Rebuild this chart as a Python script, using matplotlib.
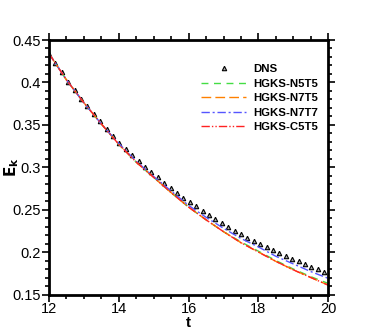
import matplotlib
matplotlib.use("Agg")
import matplotlib.pyplot as plt
from matplotlib.ticker import MultipleLocator

plt.rcParams['font.family'] = ['Liberation Sans', 'DejaVu Sans']

# HGKS curves (time grid)
t_line = [12.0, 12.5, 13.0, 13.5, 14.0, 14.5, 15.0, 15.5, 16.0, 16.5,
          17.0, 17.5, 18.0, 18.5, 19.0, 19.5, 20.0]
ek_n5t5 = [0.434, 0.403, 0.376, 0.351, 0.327, 0.306, 0.288, 0.270, 0.253, 0.238,
           0.224, 0.212, 0.201, 0.190, 0.180, 0.171, 0.163]
ek_n7t5 = [0.434, 0.403, 0.376, 0.351, 0.327, 0.306, 0.288, 0.270, 0.253, 0.238,
           0.224, 0.211, 0.200, 0.189, 0.179, 0.170, 0.161]
ek_n7t7 = [0.434, 0.403, 0.376, 0.351, 0.328, 0.307, 0.289, 0.272, 0.255, 0.241,
           0.228, 0.216, 0.206, 0.195, 0.186, 0.177, 0.169]
ek_c5t5 = [0.434, 0.403, 0.376, 0.351, 0.327, 0.306, 0.288, 0.270, 0.253, 0.238,
           0.224, 0.211, 0.200, 0.189, 0.179, 0.170, 0.161]

# DNS reference
t_dns = [12.000, 12.183, 12.367, 12.550, 12.733, 12.917, 13.100, 13.283, 13.467, 13.650,
         13.833, 14.017, 14.200, 14.383, 14.567, 14.750, 14.933, 15.117, 15.300, 15.483,
         15.667, 15.850, 16.033, 16.217, 16.400, 16.583, 16.767, 16.950, 17.133, 17.317,
         17.500, 17.683, 17.867, 18.050, 18.233, 18.417, 18.600, 18.783, 18.967, 19.150,
         19.333, 19.517, 19.700, 19.883]
ek_dns = [0.434, 0.423, 0.412, 0.401, 0.391, 0.381, 0.372, 0.363, 0.354, 0.345,
          0.337, 0.329, 0.321, 0.314, 0.307, 0.300, 0.294, 0.288, 0.282, 0.276,
          0.270, 0.264, 0.259, 0.254, 0.249, 0.244, 0.239, 0.234, 0.230, 0.225,
          0.221, 0.217, 0.213, 0.210, 0.206, 0.202, 0.199, 0.195, 0.192, 0.189,
          0.186, 0.183, 0.180, 0.177]

fig = plt.figure(figsize=(3.74, 3.32), dpi=100)
ax = fig.add_axes([49/374, 1-294.5/332, (328.3-49)/374, (294.5-40)/332])

ax.plot(t_dns, ek_dns, linestyle='none', marker='^', markersize=3.2,
        mfc='#aaaaaa', mec='black', mew=0.8, label='DNS')
ax.plot(t_line, ek_n5t5, color='#44dd44', lw=1.0, dashes=(5, 4), label='HGKS-N5T5')
ax.plot(t_line, ek_n7t5, color='#ff8000', lw=1.0, dashes=(7, 3), label='HGKS-N7T5')
ax.plot(t_line, ek_n7t7, color='#5555ff', lw=1.0, dashes=(6, 2, 1.5, 2), label='HGKS-N7T7')
ax.plot(t_line, ek_c5t5, color='#ff2222', lw=1.0, dashes=(6, 1.5, 1, 1.5, 1, 1.5), label='HGKS-C5T5')

ax.set_xlim(12, 20)
ax.set_ylim(0.15, 0.45)
ax.xaxis.set_major_locator(MultipleLocator(2))
ax.xaxis.set_minor_locator(MultipleLocator(0.5))
ax.yaxis.set_minor_locator(MultipleLocator(0.01))
ax.set_yticks([0.15, 0.2, 0.25, 0.3, 0.35, 0.4, 0.45])
ax.set_yticklabels(['0.15', '0.2', '0.25', '0.3', '0.35', '0.4', '0.45'])

ax.tick_params(which='both', direction='out', top=True, right=True,
               labeltop=False, labelright=False, width=1.2, labelsize=10.5, pad=1)
ax.tick_params(axis='x', which='both', pad=0.3)
ax.tick_params(which='major', length=5)
ax.tick_params(which='minor', length=3)
for s in ax.spines.values():
    s.set_linewidth(2)

ax.set_xlabel('t', fontsize=11, fontweight='bold')
ax.xaxis.set_label_coords(0.5, -0.083)
ax.set_ylabel(r'$\mathbf{E_k}$', fontsize=11)
ax.yaxis.set_label_coords(-0.10, 0.5)

leg = ax.legend(loc='upper left', bbox_to_anchor=(0.544, 0.905), frameon=False,
                prop={'weight': 'bold', 'size': 8.2}, handlelength=4.0,
                handletextpad=0.6, labelspacing=0.4, borderaxespad=0.0, borderpad=0.0)

fig.savefig('out.png', dpi=100)
